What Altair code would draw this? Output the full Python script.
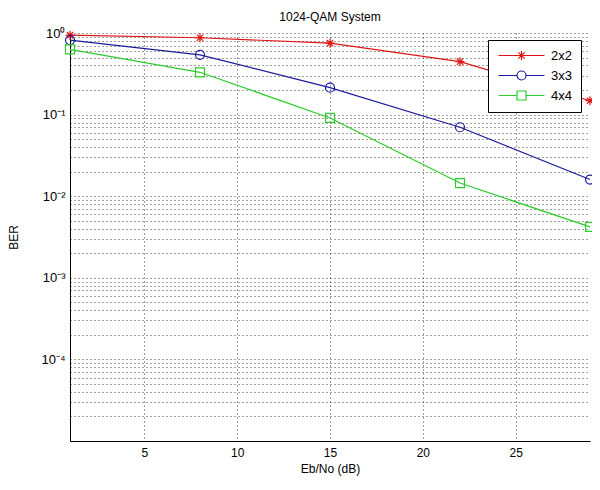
import altair as alt
import pandas as pd

# ---- data ----
ebno = [1, 8, 15, 22, 29]
ber_2x2 = [0.94, 0.875, 0.75, 0.445, 0.148]
ber_3x3 = [0.82, 0.54, 0.214, 0.07, 0.016]
ber_4x4 = [0.63, 0.33, 0.091, 0.0145, 0.0042]
series = ["2x2", "3x3", "4x4"]
colors = ["#e01414", "#1c1c9c", "#2ccc2c"]
x_ticks = [5, 10, 15, 20, 25]
decades = [-5, -4, -3, -2, -1, 0]
labelled_decades = [-4, -3, -2, -1, 0]

rows = []
for name, vals in zip(series, [ber_2x2, ber_3x3, ber_4x4]):
    for x, y in zip(ebno, vals):
        rows.append({"ebno": x, "ber": y, "series": name})
df = pd.DataFrame(rows)

# y grid values: all log ticks
y_vals = []
for e in decades[:-1]:
    for k in range(1, 10):
        y_vals.append(float(f"{k}e{e}"))
y_vals.append(1.0)

sup = {0: "\u2070", 1: "\u00b9", 2: "\u00b2", 3: "\u00b3", 4: "\u2074", 5: "\u2075"}
expr = "''"
for e in labelled_decades:
    lab = "10" + ("\u207b" if e < 0 else "") + sup[abs(e)]
    expr = f"(abs(log(datum.value)/LN10 - ({e})) < 1e-6 ? '{lab}' : {expr})"

star = "M-1,0L1,0M0,-1L0,1M-0.7,-0.7L0.7,0.7M-0.7,0.7L0.7,-0.7"
marker_shapes = [star, "circle", "square"]
# legend symbols: line segment with the marker in its middle (marker centre shifted right)
c = 4.0
a, b = c - 5.1, c + 5.1
legend_shapes = [
    f"M{a},0L{b},0M{c},-1L{c},1M{c-0.7},-0.7L{c+0.7},0.7M{c-0.7},0.7L{c+0.7},-0.7",
    f"M{a},0L{c-1},0M{c+1},0L{b},0M{c-1},0A1,1,0,1,1,{c+1},0A1,1,0,1,1,{c-1},0",
    f"M{a},0L{c-1},0M{c+1},0L{b},0M{c-1},-1L{c+1},-1L{c+1},1L{c-1},1Z",
]

font = "Liberation Sans"

x_enc = alt.X(
    "ebno:Q",
    scale=alt.Scale(domain=[1, 29], nice=False, zero=False),
    axis=alt.Axis(
        values=x_ticks, title="Eb/No (dB)", grid=True, gridDash=[1, 3],
        gridColor="#222222", gridOpacity=0.85, ticks=False, labelPadding=6,
        titlePadding=5, domainColor="#000000", labelFontSize=12, titleFontSize=12,
        titleFontWeight="normal",
    ),
)
y_enc = alt.Y(
    "ber:Q",
    scale=alt.Scale(type="log", domain=[1e-5, 1], nice=False),
    axis=alt.Axis(
        values=y_vals, labelExpr=expr, title="BER", grid=True, gridDash=[1, 3],
        gridColor="#222222", gridOpacity=0.85, ticks=False, labelPadding=5,
        titlePadding=20, domainColor="#000000", labelFontSize=13, titleFontSize=12,
        titleFontWeight="normal", labelOverlap=False,
    ),
)

base = alt.Chart(df)
lines = base.mark_line(strokeWidth=1.2).encode(
    x=x_enc, y=y_enc,
    color=alt.Color("series:N", scale=alt.Scale(domain=series, range=colors), legend=None),
)
points = base.mark_point(size=81, filled=False, strokeWidth=1.2, opacity=1).encode(
    x=x_enc, y=y_enc,
    color=alt.Color("series:N", scale=alt.Scale(domain=series, range=colors), legend=None),
    shape=alt.Shape("series:N", scale=alt.Scale(domain=series, range=marker_shapes), legend=None),
)

leg = alt.Legend(
    title=None, orient="none", legendX=418, legendY=7,
    strokeColor="#000000", fillColor="#ffffff", padding=9,
    labelOffset=41, labelFontSize=13, labelFont=font, labelColor="#000000",
    symbolStrokeWidth=1.2, rowPadding=5, symbolSize=81,
)
legend_layer = base.transform_filter("false").mark_point(
    size=81, filled=False, strokeWidth=1.2, opacity=1
).encode(
    x=x_enc, y=y_enc,
    color=alt.Color("series:N", scale=alt.Scale(domain=series, range=colors), legend=leg),
    shape=alt.Shape("series:N", scale=alt.Scale(domain=series, range=legend_shapes), legend=leg),
)

chart = alt.layer(lines, points, legend_layer).resolve_scale(
    shape="independent", color="independent"
).properties(
    width=520, height=408,
    title=alt.TitleParams("1024-QAM System", fontSize=12, fontWeight="normal", font=font, offset=3, color="#000000"),
    padding={"left": 62, "top": 25, "right": 2, "bottom": 40},
    autosize="none",
).configure_view(stroke=None).configure_axis(
    labelFont=font, titleFont=font, labelColor="#000000", titleColor="#000000"
)

chart.save("out.html", embed_options={"renderer": "svg", "actions": False})
